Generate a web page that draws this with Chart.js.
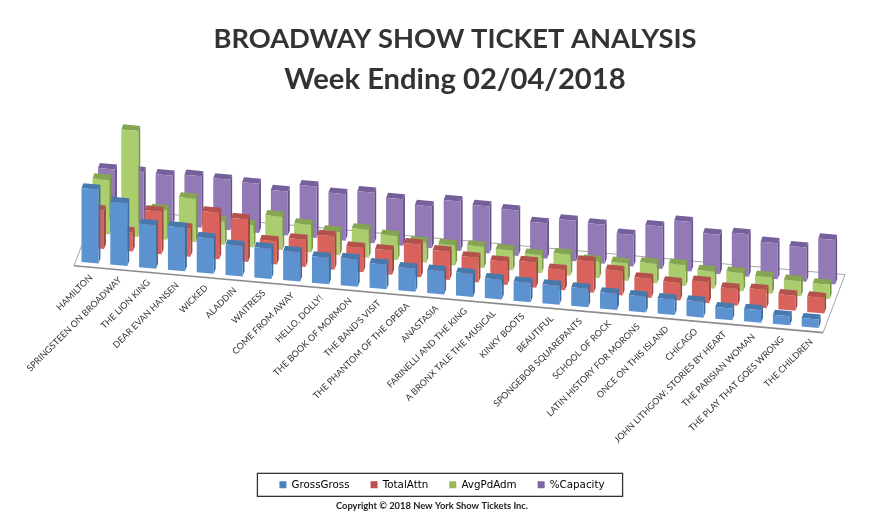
<!DOCTYPE html>
<html>
<head>
<meta charset="utf-8">
<title>Broadway Show Ticket Analysis</title>
<script src="https://cdn.jsdelivr.net/npm/chart.js@4/dist/chart.umd.js"></script>
<style>
  html, body { margin: 0; padding: 0; background: #fff; overflow: hidden; }
  canvas { display: block; }
</style>
</head>
<body>
<canvas id="chart" width="885" height="513"></canvas>
<script>
const shows = [
    "HAMILTON", "SPRINGSTEEN ON BROADWAY", "THE LION KING", "DEAR EVAN HANSEN", "WICKED", "ALADDIN",
    "WAITRESS", "COME FROM AWAY", "HELLO, DOLLY!", "THE BOOK OF MORMON", "THE BAND'S VISIT",
    "THE PHANTOM OF THE OPERA", "ANASTASIA", "FARINELLI AND THE KING", "A BRONX TALE THE MUSICAL",
    "KINKY BOOTS", "BEAUTIFUL", "SPONGEBOB SQUAREPANTS", "SCHOOL OF ROCK", "LATIN HISTORY FOR MORONS",
    "ONCE ON THIS ISLAND", "CHICAGO", "JOHN LITHGOW: STORIES BY HEART", "THE PARISIAN WOMAN",
    "THE PLAY THAT GOES WRONG", "THE CHILDREN",
];

// Bar heights (the source has no value axis)
const grossGross = [73, 62, 43, 43, 35, 30, 30, 29, 26, 27, 24.5, 23, 23, 22.7, 19.7, 19, 18.7, 18.3, 16, 15.7, 15.4, 15.7, 11.6, 12.4, 9, 8.3];
const totalAttn = [38, 19, 42, 28, 46, 42, 23, 27, 33, 24, 24, 32.5, 28, 24.4, 23, 25, 20, 30.7, 24, 19, 17.4, 20.7, 16.6, 18, 15, 15.3];
const avgPdAdm = [54, 105, 29, 43, 23, 22, 33, 27.5, 23, 27.6, 24, 20, 20, 21, 20, 18, 21, 17, 17.5, 19.4, 20.7, 17, 18, 16.4, 15, 14];
const pctCapacity = [50, 50, 49, 51, 50, 48.6, 43.6, 51, 46, 50, 46, 41.5, 49, 46.6, 45, 35, 40, 38.6, 31, 42, 49, 39, 42, 35.7, 34, 44];

const seriesNames = ["GrossGross", "TotalAttn", "AvgPdAdm", "%Capacity"];
const seriesValues = [grossGross, totalAttn, avgPdAdm, pctCapacity];

const faceColors = ["#5c92cf", "#d9635c", "#aacd6e", "#9379b5"];
const topColors = ["#4779ad", "#b5514d", "#86a552", "#75609b"];
const sideColors = ["#3f6c9f", "#a14541", "#7b974a", "#67538b"];
const legendColors = ["#4f81bd", "#c0504d", "#9bbb59", "#8064a2"];

const copyrightText = "Copyright \u00a9 2018 New York Show Tickets Inc.";

// Oblique projection of the flat chart onto the tilted floor
const SLOPE = 0.0894;     // the category axis runs downhill to the right
const DEPTH_X = 5.5;      // screen shift per series row
const DEPTH_Y = -14.5;
const ROW_INSET = 0.29;   // bars start a bit behind the front of their row
const BAR_DEPTH = 0.35;
const ROWS = 4;

function project(chart, x, y, depth) {
    return {
        x: x + depth * DEPTH_X,
        y: y + (x - chart.chartArea.left) * SLOPE + depth * DEPTH_Y,
    };
}

function fillPoly(ctx, points, color) {
    ctx.beginPath();
    points.forEach((p, i) => (i === 0 ? ctx.moveTo(p.x, p.y) : ctx.lineTo(p.x, p.y)));
    ctx.closePath();
    ctx.fillStyle = color;
    ctx.fill();
}

// Bar controller that paints each bar element as a small box
class Bar3dController extends Chart.BarController {
    draw() {
        const chart = this.chart;
        const ctx = chart.ctx;
        const row = this.index;
        const d0 = row + ROW_INSET;
        const d1 = d0 + BAR_DEPTH;

        this.getMeta().data.forEach((bar) => {
            const x0 = bar.x - bar.width / 2;
            const x1 = bar.x + bar.width / 2;
            const top = bar.y;
            const base = bar.base;

            fillPoly(ctx, [project(chart, x1, top, d0), project(chart, x1, top, d1),
                project(chart, x1, base, d1), project(chart, x1, base, d0)], sideColors[row]);
            fillPoly(ctx, [project(chart, x0, top, d0), project(chart, x0, top, d1),
                project(chart, x1, top, d1), project(chart, x1, top, d0)], topColors[row]);
            fillPoly(ctx, [project(chart, x0, top, d0), project(chart, x1, top, d0),
                project(chart, x1, base, d0), project(chart, x0, base, d0)], faceColors[row]);
        });
    }
}
Bar3dController.id = "bar3d";
Chart.register(Bar3dController);

const floorAndLabels = {
    id: "floorAndLabels",

    // Title and legend are not centred on the same line in the source
    afterLayout(chart) {
        chart.boxes.forEach((box) => {
            if (box.options && box.options.text) {
                box.left += 6.5;
                box.right += 6.5;
            }
        });
        chart.legend.left -= 6.5;
        chart.legend.right -= 6.5;
    },

    beforeDatasetsDraw(chart) {
        const ctx = chart.ctx;
        const { left, right, bottom } = chart.chartArea;
        const a = project(chart, left, bottom, 0);
        const b = project(chart, right, bottom, 0);
        const c = project(chart, right, bottom, ROWS);
        const d = project(chart, left, bottom, ROWS);

        ctx.save();
        ctx.strokeStyle = "#a6a6a6";
        ctx.lineWidth = 1;
        ctx.beginPath();
        ctx.moveTo(a.x, a.y);
        ctx.lineTo(d.x, d.y);
        ctx.lineTo(c.x, c.y);
        ctx.lineTo(b.x, b.y);
        ctx.stroke();

        ctx.strokeStyle = "#8c8c8c";
        ctx.lineWidth = 1.6;
        ctx.beginPath();
        ctx.moveTo(a.x, a.y);
        ctx.lineTo(b.x, b.y);
        ctx.stroke();
        ctx.restore();
    },

    afterDraw(chart) {
        const ctx = chart.ctx;
        const scale = chart.scales.x;

        // Category labels follow the sloped front edge of the floor
        ctx.save();
        ctx.fillStyle = "#333";
        ctx.font = "9px Lato";
        ctx.textAlign = "right";
        ctx.textBaseline = "middle";
        scale.getLabels().forEach((label, i) => {
            const p = project(chart, scale.getPixelForTick(i), chart.chartArea.bottom, 0);
            ctx.save();
            ctx.translate(p.x + 2.6, p.y + 9);
            ctx.rotate(-Math.PI / 4);
            ctx.fillText(label, 0, 0);
            ctx.restore();
        });
        ctx.restore();

        // Frame around the legend
        const boxes = chart.legend.legendHitBoxes;
        const last = boxes[boxes.length - 1];
        const boxLeft = boxes[0].left - 22;
        const boxRight = last.left + last.width + 18;
        const midY = boxes[0].top + boxes[0].height / 2;
        ctx.save();
        ctx.strokeStyle = "#333";
        ctx.lineWidth = 1.3;
        ctx.strokeRect(boxLeft, midY - 11.5, boxRight - boxLeft, 23);

        ctx.fillStyle = "#222";
        ctx.font = "bold 9.35px Lato";
        ctx.textAlign = "center";
        ctx.textBaseline = "middle";
        ctx.fillText(copyrightText, 432, 506);
        ctx.restore();
    },
};

new Chart(document.getElementById("chart"), {
    type: "bar3d",
    data: {
        labels: shows,
        datasets: seriesValues.map((values, i) => ({
            label: seriesNames[i],
            data: values,
            backgroundColor: faceColors[i],
            grouped: false,
            categoryPercentage: 1,
            barPercentage: 0.59,
            clip: false,
        })),
    },
    plugins: [floorAndLabels],
    options: {
        responsive: false,
        animation: false,
        layout: { padding: { left: 74, right: 62, top: 0, bottom: 13 } },
        scales: {
            x: {
                type: "category",
                offset: true,
                grid: { display: false },
                border: { display: false },
                ticks: { display: false, autoSkip: false },
                afterFit(scale) {
                    scale.height = 193;
                },
            },
            y: { type: "linear", display: false, min: 0, max: 164 },
        },
        plugins: {
            tooltip: { enabled: false },
            title: {
                display: true,
                text: "BROADWAY SHOW TICKET ANALYSIS",
                color: "#333",
                font: { family: "Lato", size: 27.3, weight: "bold" },
                padding: { top: 22.6, bottom: 0 },
            },
            subtitle: {
                display: true,
                text: "Week Ending 02/04/2018",
                color: "#333",
                font: { family: "Lato", size: 29.2, weight: "bold" },
                padding: { top: 7, bottom: 2.5 },
            },
            legend: {
                position: "bottom",
                labels: {
                    boxWidth: 7,
                    boxHeight: 7,
                    padding: 21,
                    color: "#444",
                    font: { family: "DejaVu Sans", size: 10.3 },
                    generateLabels: (chart) => chart.data.datasets.map((ds, i) => ({
                        text: ds.label,
                        fillStyle: legendColors[i],
                        strokeStyle: legendColors[i],
                        lineWidth: 0,
                        datasetIndex: i,
                    })),
                },
            },
        },
    },
});
</script>
</body>
</html>
